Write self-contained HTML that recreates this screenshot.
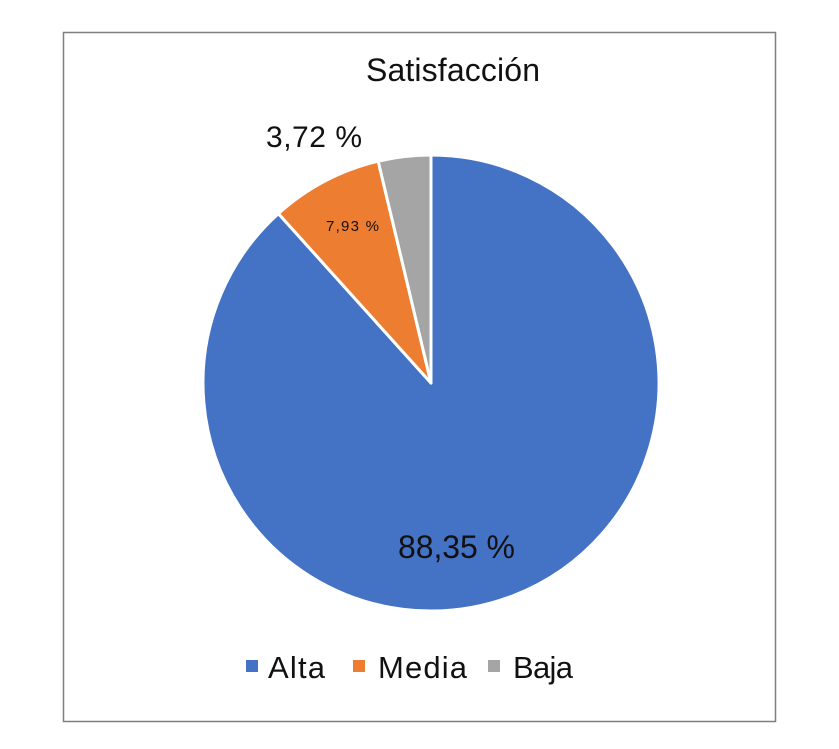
<!DOCTYPE html>
<html><head><meta charset="utf-8"><style>
html,body{margin:0;padding:0;background:#fff;}
svg{display:block}
text{font-family:"Liberation Sans","DejaVu Sans",sans-serif;fill:#111;}
</style></head><body>
<svg width="839" height="749" viewBox="0 0 839 749">
<rect x="0" y="0" width="839" height="749" fill="#fff"/>
<rect x="63.5" y="32.5" width="712" height="689" fill="#fff" stroke="#7f7f7f" stroke-width="1.5"/>
<text x="453" y="81" font-size="32" text-anchor="middle" textLength="174">Satisfacción</text>
<g stroke="#fff" stroke-width="3" stroke-linejoin="round">
<path d="M431,383 L431,155 A228,228 0 1,1 278.4,213.6 Z" fill="#4472c4"/>
<path d="M431,383 L278.4,213.6 A228,228 0 0,1 378.2,161.2 Z" fill="#ed7d31"/>
<path d="M431,383 L378.2,161.2 A228,228 0 0,1 431,155 Z" fill="#a5a5a5"/>
</g>
<text x="266" y="147" font-size="30" textLength="96">3,72 %</text>
<text x="326" y="231" font-size="15" textLength="53">7,93 %</text>
<text x="398" y="558" font-size="32" textLength="117">88,35 %</text>
<rect x="246" y="660" width="12" height="12" fill="#4472c4"/>
<text x="268" y="678" font-size="31" textLength="57">Alta</text>
<rect x="353" y="660" width="12" height="12" fill="#ed7d31"/>
<text x="378" y="678" font-size="31" textLength="89">Media</text>
<rect x="488" y="660" width="12" height="12" fill="#a5a5a5"/>
<text x="513" y="678" font-size="31" textLength="60">Baja</text>
</svg>
</body></html>
